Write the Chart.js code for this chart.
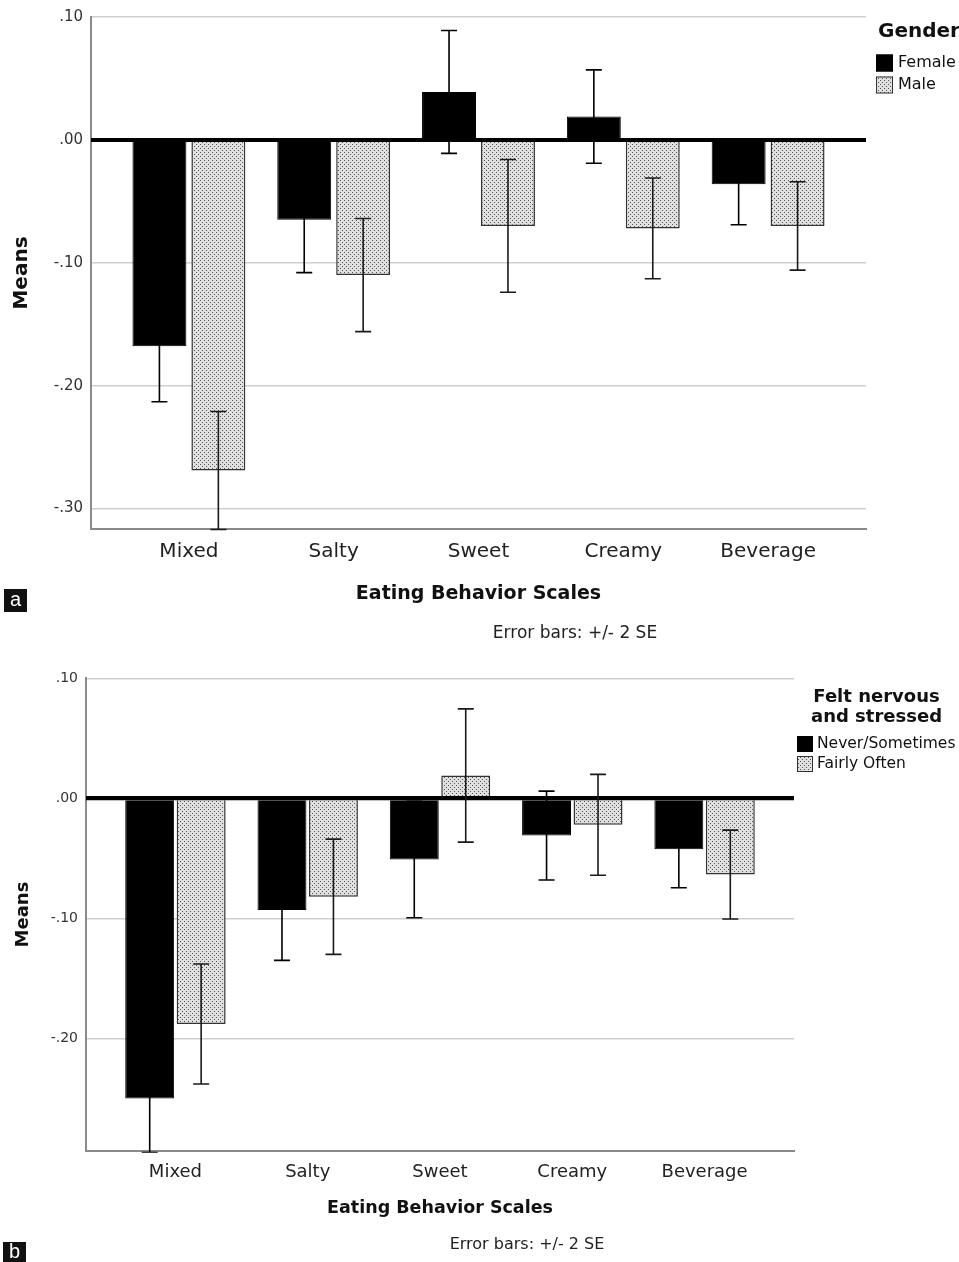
<!DOCTYPE html>
<html lang="en">
<head>
<meta charset="UTF-8" />
<title>Eating Behavior Scales</title>
<script src="https://cdn.jsdelivr.net/npm/chart.js"></script>
<style>
  body { margin: 0; background: #fff; }
  canvas { display: block; }
</style>
</head>
<body>
<canvas id="chartA" width="959" height="645"></canvas>
<canvas id="chartB" width="959" height="617"></canvas>
<script>
  // categories shared by both panels
  const categories = ['Mixed', 'Salty', 'Sweet', 'Creamy', 'Beverage'];

  // panel a: gender
  const yTicksA = [0.1, 0, -0.1, -0.2, -0.3];
  const femaleMeans = [-0.168, -0.065, 0.039, 0.019, -0.036];
  const femaleErr = [0.045, 0.043, 0.050, 0.038, 0.033];
  const maleMeans = [-0.269, -0.110, -0.070, -0.072, -0.070];
  const maleErr = [0.048, 0.046, 0.054, 0.041, 0.036];

  // panel b: felt nervous and stressed
  const yTicksB = [0.1, 0, -0.1, -0.2];
  const neverMeans = [-0.250, -0.093, -0.051, -0.031, -0.0425];
  const neverErr = [0.045, 0.042, 0.0485, 0.037, 0.032];
  const oftenMeans = [-0.188, -0.082, 0.019, -0.022, -0.0635];
  const oftenErr = [0.050, 0.048, 0.0555, 0.042, 0.037];

  Chart.defaults.font.family = "'DejaVu Sans', sans-serif";
  Chart.defaults.color = '#222';

  function makePattern() {
    const c = document.createElement('canvas');
    c.width = 4; c.height = 4;
    const g = c.getContext('2d');
    g.fillStyle = '#e0e0e0';
    g.fillRect(0, 0, 4, 4);
    g.fillStyle = '#555';
    g.fillRect(0, 0, 1, 1);
    g.fillRect(2, 2, 1, 1);
    return g.createPattern(c, 'repeat');
  }
  const dots = makePattern();

  function fmt(v) {
    const s = Math.abs(v).toFixed(2).replace(/^0/, '');
    return (v < -1e-9 ? '-' : '') + s;
  }

  function toPoints(vals) {
    return vals.map((v, i) => ({ x: i, y: v }));
  }

  const extras = {
    id: 'extras',
    afterDatasetsDraw(chart) {
      const { ctx, chartArea: area, scales: { y } } = chart;
      ctx.save();
      ctx.beginPath();
      ctx.rect(area.left, area.top - 2, area.right - area.left, area.bottom - area.top + 4);
      ctx.clip();

      // thick reference line at zero
      const y0 = y.getPixelForValue(0);
      ctx.strokeStyle = '#000';
      ctx.lineWidth = 4;
      ctx.beginPath();
      ctx.moveTo(area.left, y0);
      ctx.lineTo(area.right, y0);
      ctx.stroke();

      // error bars
      ctx.lineWidth = 1.6;
      chart.data.datasets.forEach((ds, di) => {
        const meta = chart.getDatasetMeta(di);
        ctx.strokeStyle = di === 0 ? '#000' : '#1a1a1a';
        ds.errors.forEach((e, i) => {
          const x = meta.data[i].x;
          const m = ds.data[i].y;
          const yt = y.getPixelForValue(m + e);
          const yb = y.getPixelForValue(m - e);
          ctx.beginPath();
          ctx.moveTo(x, yt); ctx.lineTo(x, yb);
          ctx.moveTo(x - 8, yt); ctx.lineTo(x + 8, yt);
          ctx.moveTo(x - 8, yb); ctx.lineTo(x + 8, yb);
          ctx.stroke();
        });
      });
      ctx.restore();
    },
    afterDraw(chart, args, opts) {
      const ctx = chart.ctx;
      const lg = opts.legend;
      ctx.save();

      // legend title
      ctx.fillStyle = '#111';
      ctx.font = 'bold ' + lg.titleSize + "px 'DejaVu Sans', sans-serif";
      ctx.textAlign = lg.titleAlign;
      ctx.textBaseline = 'middle';
      lg.title.forEach((t, i) => ctx.fillText(t, lg.titleX, lg.titleY[i]));

      // legend items
      ctx.font = lg.size + "px 'DejaVu Sans', sans-serif";
      ctx.textAlign = 'left';
      chart.data.datasets.forEach((ds, i) => {
        const cy = lg.rowY[i];
        ctx.fillStyle = ds.backgroundColor;
        ctx.fillRect(lg.boxX, cy - lg.box / 2, lg.box, lg.box);
        ctx.strokeStyle = ds.borderColor;
        ctx.lineWidth = 1;
        ctx.strokeRect(lg.boxX + 0.5, cy - lg.box / 2 + 0.5, lg.box - 1, lg.box - 1);
        ctx.fillStyle = '#111';
        ctx.fillText(ds.label, lg.textX, cy);
      });

      // note under the axis title
      const nt = opts.note;
      ctx.font = nt.size + "px 'DejaVu Sans', sans-serif";
      ctx.textAlign = 'center';
      ctx.fillStyle = '#222';
      ctx.fillText(nt.text, nt.x, nt.y);

      // panel letter
      const p = opts.panel;
      ctx.fillStyle = '#111';
      ctx.fillRect(p.x, p.y, p.w, p.h);
      ctx.fillStyle = '#fff';
      ctx.font = "20px 'Liberation Sans', sans-serif";
      ctx.fillText(p.text, p.x + p.w / 2, p.y + p.h / 2);
      ctx.restore();
    }
  };

  function buildChart(id, s) {
    return new Chart(document.getElementById(id), {
      type: 'bar',
      data: {
        datasets: [
          {
            label: s.labels[0],
            data: toPoints(s.means[0]),
            errors: s.errs[0],
            backgroundColor: '#000',
            borderColor: '#000',
            borderWidth: 1
          },
          {
            label: s.labels[1],
            data: toPoints(s.means[1]),
            errors: s.errs[1],
            backgroundColor: dots,
            borderColor: '#333',
            borderWidth: 1.5
          }
        ]
      },
      options: {
        responsive: false,
        animation: false,
        events: [],
        categoryPercentage: s.catPct,
        barPercentage: s.barPct,
        layout: { padding: s.padding },
        plugins: {
          legend: { display: false },
          tooltip: { enabled: false },
          extras: s.extras
        },
        scales: {
          x: {
            type: 'linear',
            offset: false,
            min: -0.676,
            max: categories.length - 1 + 0.676,
            afterBuildTicks: sc => { sc.ticks = categories.map((c, i) => ({ value: i })); },
            afterFit: sc => { sc.height = s.xHeight; },
            grid: { display: false, offset: false },
            border: { display: true, color: '#8a8a8a', width: 2 },
            ticks: {
              callback: v => categories[v],
              font: { size: s.xSize },
              color: '#222',
              padding: s.xPad,
              maxRotation: 0,
              autoSkip: false
            },
            title: {
              display: true,
              text: 'Eating Behavior Scales',
              font: { size: s.xTitleSize, weight: 'bold' },
              color: '#111',
              padding: { top: 0, bottom: s.xTitlePad }
            }
          },
          y: {
            min: s.yMin,
            max: 0.1,
            afterBuildTicks: sc => { sc.ticks = s.yTicks.map(v => ({ value: v })); },
            afterFit: sc => { sc.width = s.yWidth; },
            grid: {
              drawTicks: false,
              color: c => (c.tick && c.tick.value === 0 ? '#000' : '#cfcfcf'),
              lineWidth: c => (c.tick && c.tick.value === 0 ? 4 : 1.5)
            },
            border: { display: true, color: '#8a8a8a', width: 2 },
            ticks: {
              callback: v => fmt(v),
              font: { size: s.ySize },
              color: '#333',
              padding: 8
            },
            title: {
              display: true,
              text: 'Means',
              font: { size: s.yTitleSize, weight: 'bold' },
              color: '#111',
              padding: { top: s.yTitlePad, bottom: 0 }
            }
          }
        }
      },
      plugins: [extras]
    });
  }

  buildChart('chartA', {
    labels: ['Female', 'Male'],
    means: [femaleMeans, maleMeans],
    errs: [femaleErr, maleErr],
    yTicks: yTicksA,
    yMin: -0.3166,
    catPct: 0.814,
    barPct: 0.915,
    padding: { top: 13, right: 93, bottom: 0, left: 0 },
    xHeight: 116,
    yWidth: 91,
    xSize: 20,
    xPad: 3,
    xTitleSize: 19,
    xTitlePad: 40,
    ySize: 15,
    yTitleSize: 20,
    yTitlePad: 10,
    extras: {
      legend: {
        title: ['Gender'], titleSize: 20, titleAlign: 'left', titleX: 878, titleY: [32],
        box: 17, boxX: 876, rowY: [63, 85], textX: 898, size: 16
      },
      note: { text: 'Error bars: +/- 2 SE', x: 575, y: 634, size: 17 },
      panel: { text: 'a', x: 4, y: 589, w: 23, h: 23 }
    }
  });

  buildChart('chartB', {
    labels: ['Never/Sometimes', 'Fairly Often'],
    means: [neverMeans, oftenMeans],
    errs: [neverErr, oftenErr],
    yTicks: yTicksB,
    yMin: -0.2935,
    catPct: 0.778,
    barPct: 0.951,
    padding: { top: 33.3, right: 165, bottom: 0, left: 0 },
    xHeight: 111.3,
    yWidth: 86,
    xSize: 18,
    xPad: 3,
    xTitleSize: 17.5,
    xTitlePad: 43,
    ySize: 14,
    yTitleSize: 18,
    yTitlePad: 13,
    extras: {
      legend: {
        title: ['Felt nervous', 'and stressed'], titleSize: 18, titleAlign: 'center', titleX: 876.5, titleY: [52, 72],
        box: 16, boxX: 797, rowY: [99, 119], textX: 817, size: 15.5
      },
      note: { text: 'Error bars: +/- 2 SE', x: 527, y: 600, size: 16 },
      panel: { text: 'b', x: 3, y: 597, w: 23, h: 20 }
    }
  });
</script>
</body>
</html>
